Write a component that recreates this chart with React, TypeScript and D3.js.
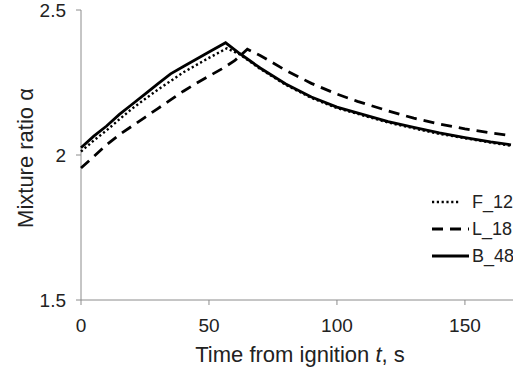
import React from "react";
import * as d3 from "d3";

const seriesNames = ["F_12", "L_18", "B_48"];
const tF = [0, 5, 10, 15, 20, 25, 30, 35, 40, 45, 50, 57, 62, 70, 80, 90, 100, 110, 120, 130, 140, 150, 160, 168];
const vF = [2.012, 2.05, 2.085, 2.123, 2.16, 2.193, 2.225, 2.255, 2.285, 2.31, 2.335, 2.368, 2.347, 2.297, 2.242, 2.197, 2.162, 2.137, 2.112, 2.092, 2.073, 2.058, 2.043, 2.032];
const tL = [0, 5, 10, 15, 20, 25, 30, 35, 40, 45, 50, 55, 60, 65, 70, 80, 90, 100, 108, 120, 130, 140, 150, 160, 168];
const vL = [1.955, 1.995, 2.035, 2.07, 2.1, 2.13, 2.16, 2.19, 2.22, 2.247, 2.272, 2.297, 2.325, 2.365, 2.343, 2.292, 2.247, 2.21, 2.185, 2.152, 2.127, 2.107, 2.09, 2.076, 2.067];
const tB = [0, 5, 10, 15, 20, 25, 30, 35, 40, 45, 50, 56.5, 62, 70, 80, 90, 100, 110, 120, 130, 140, 150, 160, 168];
const vB = [2.025, 2.065, 2.1, 2.14, 2.175, 2.21, 2.245, 2.28, 2.305, 2.33, 2.355, 2.387, 2.35, 2.3, 2.245, 2.2, 2.165, 2.14, 2.115, 2.095, 2.076, 2.06, 2.045, 2.035];
const xTicks = [0, 50, 100, 150];
const yTicks = [1.5, 2, 2.5];

const FONT = "'Liberation Sans', Arial, sans-serif";

export default function App() {
  const x = d3.scaleLinear().domain([0, 168]).range([81, 511]);
  const y = d3.scaleLinear().domain([1.5, 2.5]).range([300, 10]);
  const line = d3
    .line<[number, number]>()
    .x((d) => x(d[0]))
    .y((d) => y(d[1]))
    .curve(d3.curveLinear);

  const series = [
    { name: seriesNames[0], pts: tF.map((t, i) => [t, vF[i]] as [number, number]), dash: "2.2 2.6", w: 2.4 },
    { name: seriesNames[1], pts: tL.map((t, i) => [t, vL[i]] as [number, number]), dash: "11 7", w: 2.8 },
    { name: seriesNames[2], pts: tB.map((t, i) => [t, vB[i]] as [number, number]), dash: "", w: 2.8 },
  ];
  const legendY = [202, 229, 256];

  return (
    <svg width={513} height={374} style={{ position: "absolute", left: 0, top: 0, background: "#fff" }} fontFamily={FONT}>
      <rect width={513} height={374} fill="#fff" />
      <line x1={81} x2={81} y1={10} y2={300} stroke="#8c8c8c" strokeWidth={1} />
      <line x1={81} x2={513} y1={300} y2={300} stroke="#8c8c8c" strokeWidth={1} />
      {yTicks.map((t) => (
        <g key={"y" + t}>
          <line x1={76} x2={81} y1={y(t)} y2={y(t)} stroke="#8c8c8c" />
          <text x={66} y={y(t)} dy="0.35em" textAnchor="end" fontSize={19} fill="#222">
            {t === 2 ? "2" : t.toFixed(1)}
          </text>
        </g>
      ))}
      {xTicks.map((t) => (
        <g key={"x" + t}>
          <line x1={x(t)} x2={x(t)} y1={300} y2={305} stroke="#8c8c8c" />
          <text x={x(t)} y={332} textAnchor="middle" fontSize={19} fill="#222">
            {t}
          </text>
        </g>
      ))}
      <text x={300} y={362} textAnchor="middle" fontSize={22} fill="#222">
        Time from ignition <tspan fontStyle="italic">t</tspan>, s
      </text>
      <text transform="translate(33,158) rotate(-90)" textAnchor="middle" fontSize={22} fill="#222">
        Mixture ratio α
      </text>
      {series.map((s) => (
        <path
          key={s.name}
          d={line(s.pts) || ""}
          fill="none"
          stroke="#000"
          strokeWidth={s.w}
          strokeDasharray={s.dash}
          strokeLinejoin="miter"
        />
      ))}
      {series.map((s, i) => (
        <g key={"lg" + s.name}>
          <line
            x1={432}
            x2={s.name === "F_12" ? 460 : 469}
            y1={legendY[i]}
            y2={legendY[i]}
            stroke="#000"
            strokeWidth={s.w}
            strokeDasharray={s.dash}
          />
          <text x={472} y={legendY[i]} dy="0.35em" fontSize={18} fill="#222">
            {s.name}
          </text>
        </g>
      ))}
    </svg>
  );
}
